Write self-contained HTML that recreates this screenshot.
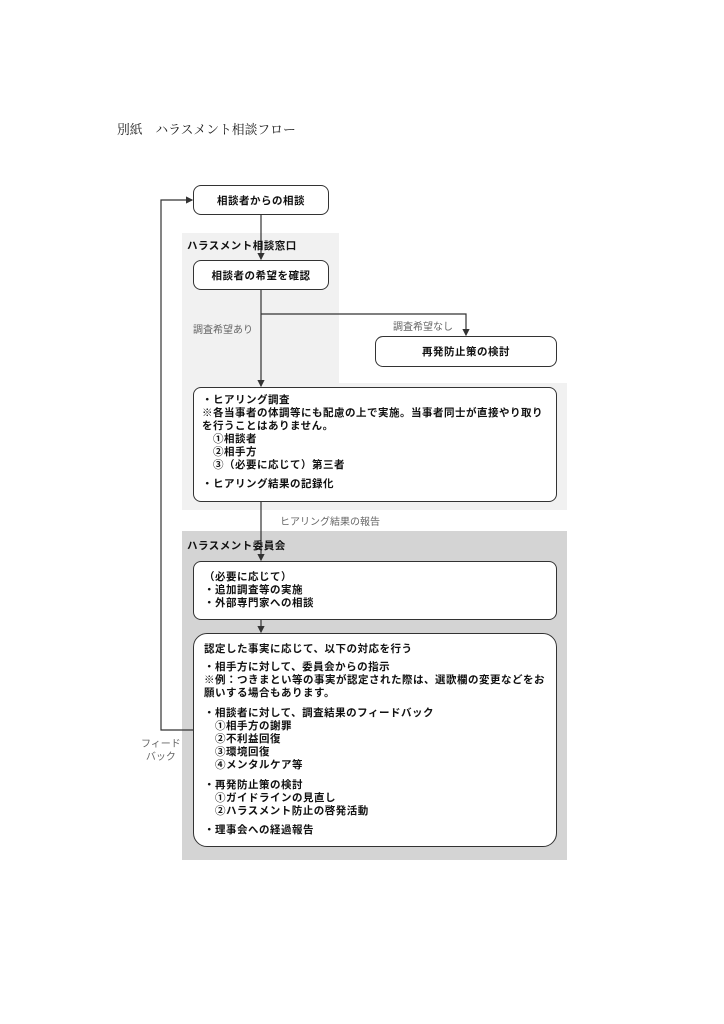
<!DOCTYPE html>
<html><head><meta charset="utf-8"><style>
body{margin:0;width:724px;height:1024px;background:#fff;position:relative;font-family:"Liberation Sans","Noto Sans CJK JP",sans-serif;overflow:hidden}
.a{position:absolute}
.box{position:absolute;border:1.3px solid #333;border-radius:8px;background:#fff;box-sizing:border-box;font-weight:bold;font-size:10.5px;color:#111;letter-spacing:0.5px}
.c{display:flex;align-items:center;justify-content:center}
.lbl{position:absolute;font-size:10px;color:#666;white-space:nowrap}
.t{position:absolute;white-space:nowrap;font-weight:bold;font-size:10.5px;line-height:13px;color:#111;letter-spacing:0.5px}
</style></head><body>
<div class="a" style="left:117px;top:119px;font-family:'Liberation Serif','Noto Serif CJK SC',serif;font-size:12.8px;color:#222">別紙　ハラスメント相談フロー</div>

<div class="a" style="left:182px;top:233px;width:157px;height:150px;background:#f1f1f1"></div>
<div class="a" style="left:182px;top:383px;width:385px;height:127px;background:#f1f1f1"></div>
<div class="a" style="left:182px;top:531px;width:385px;height:329px;background:#d4d4d4"></div>

<svg class="a" style="left:0;top:0" width="724" height="1024">
<defs><marker id="m" markerWidth="6" markerHeight="6" refX="5" refY="3" orient="auto"><path d="M0,0L6,3L0,6z" fill="#333"/></marker></defs>
<g stroke="#333" stroke-width="1.2" fill="none">
<line x1="261" y1="215" x2="261" y2="259" marker-end="url(#m)"/>
<line x1="261" y1="290" x2="261" y2="386" marker-end="url(#m)"/>
<polyline points="261,314 466,314 466,335" marker-end="url(#m)"/>
<line x1="261" y1="502" x2="261" y2="560" marker-end="url(#m)"/>
<line x1="261" y1="620" x2="261" y2="632" marker-end="url(#m)"/>
<polyline points="193,730 161,730 161,200 192,200" marker-end="url(#m)"/>
</g></svg>

<div class="t" style="left:187px;top:240px">ハラスメント相談窓口</div>
<div class="t" style="left:187px;top:540px">ハラスメント委員会</div>

<div class="box c" style="left:193px;top:185px;width:136px;height:30px">相談者からの相談</div>
<div class="box c" style="left:193px;top:260px;width:136px;height:30px">相談者の希望を確認</div>
<div class="box c" style="left:375px;top:336px;width:182px;height:31px">再発防止策の検討</div>
<div class="lbl" style="left:193px;top:321px">調査希望あり</div>
<div class="lbl" style="left:393px;top:318px">調査希望なし</div>
<div class="lbl" style="left:280px;top:513px">ヒアリング結果の報告</div>
<div class="lbl" style="left:141px;top:738px;text-align:center;line-height:13px">フィード<br>バック</div>

<div class="box" style="left:193px;top:387px;width:364px;height:115px"></div>
<div class="t" style="left:202px;top:394px">・ヒアリング調査<br>※各当事者の体調等にも配慮の上で実施。当事者同士が直接やり取り<br>を行うことはありません。<br>　①相談者<br>　②相手方<br>　③（必要に応じて）第三者</div>
<div class="t" style="left:202px;top:478px">・ヒアリング結果の記録化</div>

<div class="box" style="left:193px;top:561px;width:364px;height:59px"></div>
<div class="t" style="left:204px;top:571px">（必要に応じて）<br>・追加調査等の実施<br>・外部専門家への相談</div>

<div class="box" style="left:193px;top:633px;width:364px;height:214px;border-radius:14px"></div>
<div class="t" style="left:204px;top:643px">認定した事実に応じて、以下の対応を行う</div>
<div class="t" style="left:204px;top:661px">・相手方に対して、委員会からの指示<br>※例：つきまとい等の事実が認定された際は、選歌欄の変更などをお<br>願いする場合もあります。</div>
<div class="t" style="left:204px;top:707px">・相談者に対して、調査結果のフィードバック<br>　①相手方の謝罪<br>　②不利益回復<br>　③環境回復<br>　④メンタルケア等</div>
<div class="t" style="left:204px;top:779px">・再発防止策の検討<br>　①ガイドラインの見直し<br>　②ハラスメント防止の啓発活動</div>
<div class="t" style="left:204px;top:824px">・理事会への経過報告</div>
</body></html>
